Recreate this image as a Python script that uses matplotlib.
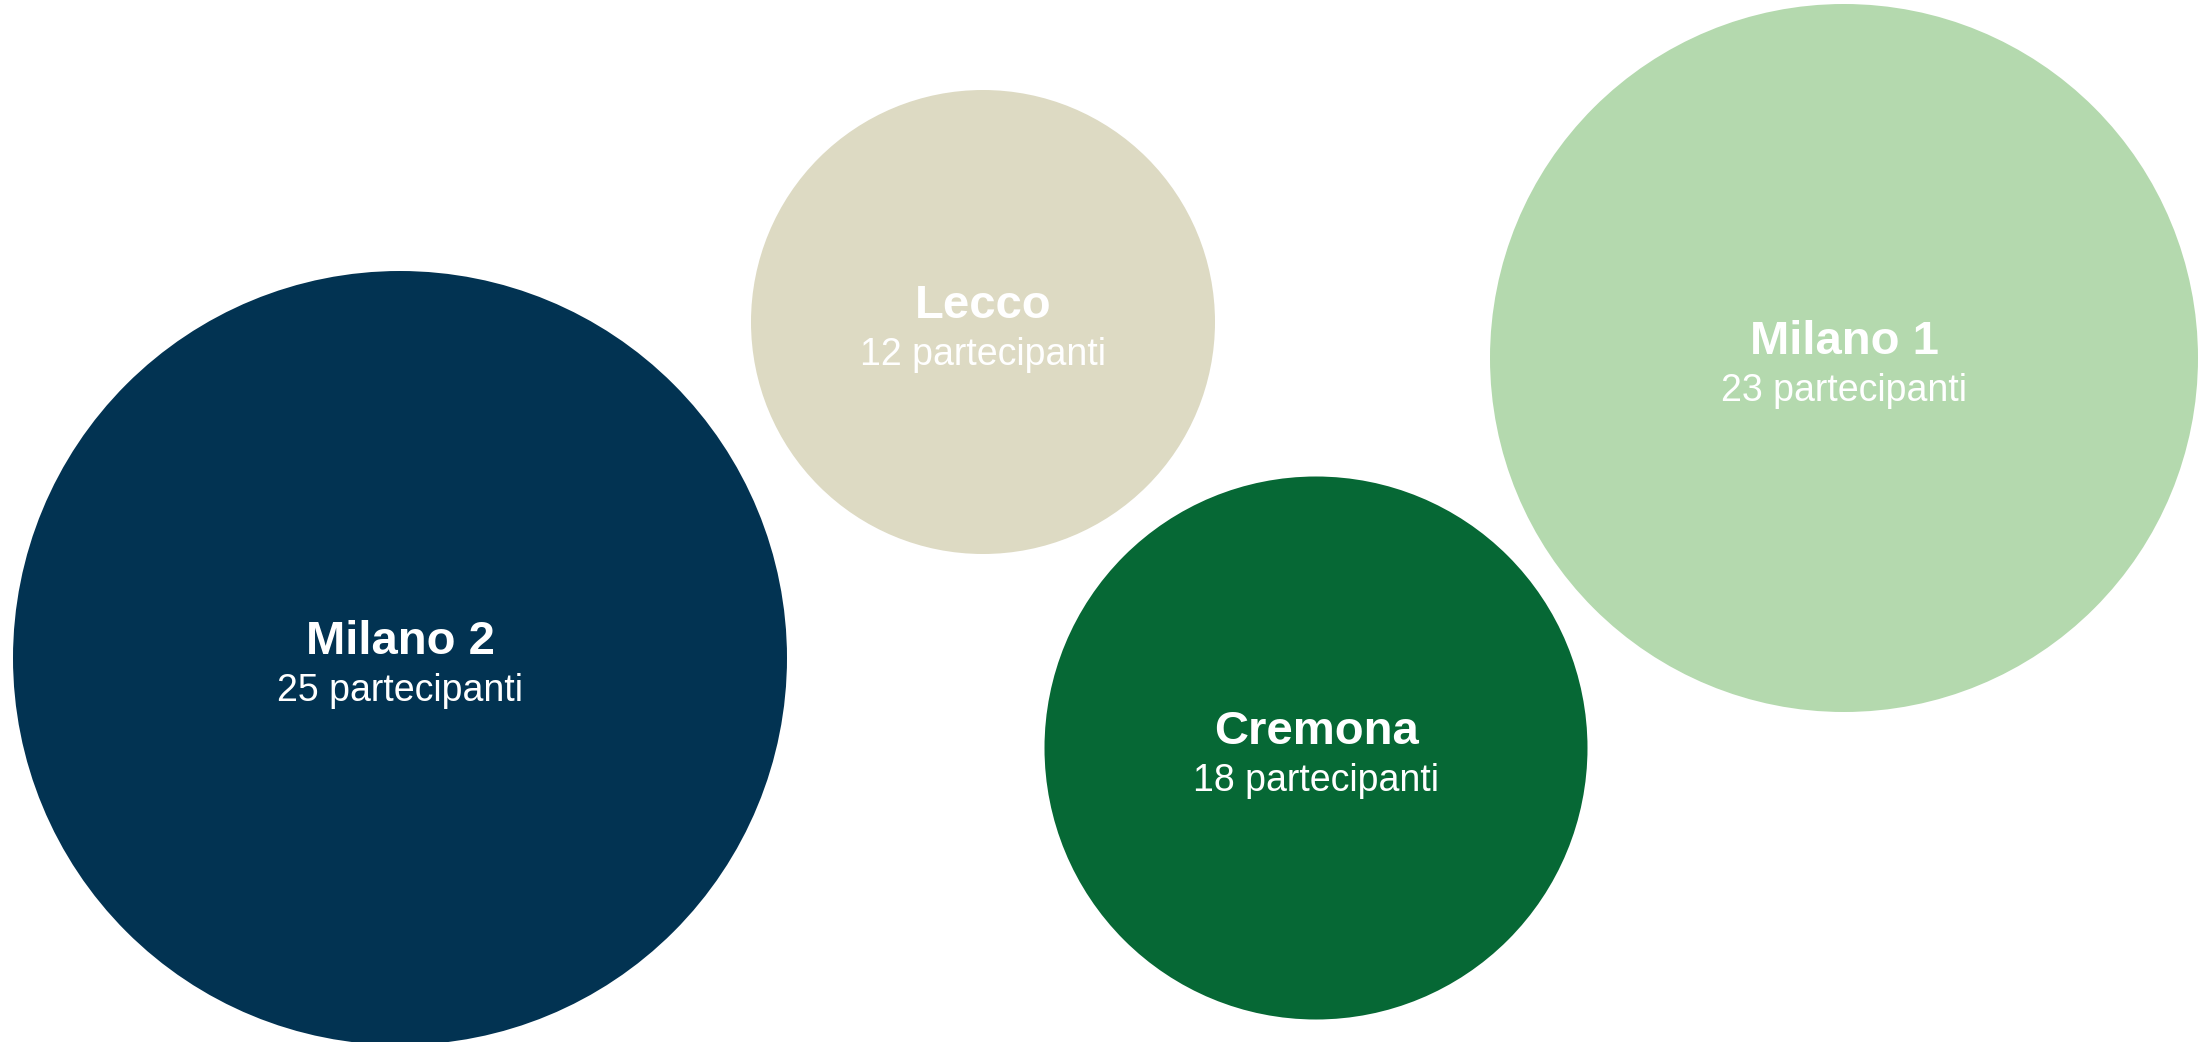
import matplotlib
matplotlib.use("Agg")
import matplotlib.pyplot as plt
from matplotlib.patches import Circle
import numpy as np

# ---- data ----
names = ["Milano 2", "Lecco", "Cremona", "Milano 1"]
participants = [25, 12, 18, 23]
colors = ["#023352", "#DDDAC3", "#066835", "#B4D9AE"]

# ---- layout (packed-bubble positions, in pixel space of the canvas) ----
bubble_x = [400, 983, 1316, 1844]
bubble_y = [658, 322, 748, 358]

W, H = 2212, 1042
DPI = 100


def bubble_radius(v):
    # linear size scale with a minimum bubble size
    return max(232.0, 16.5 * v - 25.5)


fig = plt.figure(figsize=(W / DPI, H / DPI), dpi=DPI)
ax = fig.add_axes([0, 0, 1, 1])
ax.set_xlim(0, W)
ax.set_ylim(H, 0)
ax.set_aspect("equal")
ax.axis("off")

for name, v, c, x, y in zip(names, participants, colors, bubble_x, bubble_y):
    r = bubble_radius(v)
    ax.add_patch(Circle((x, y), r, facecolor=c, edgecolor="none"))
    ax.annotate(name, (x, y), xytext=(0, 3), textcoords="offset points",
                ha="center", va="baseline", color="white",
                fontsize=34, fontweight="bold", family="Liberation Sans")
    ax.annotate(f"{v} partecipanti", (x, y), xytext=(0, -31), textcoords="offset points",
                ha="center", va="baseline", color="white",
                fontsize=27, family="Liberation Sans")

fig.savefig("out.png", dpi=DPI)
